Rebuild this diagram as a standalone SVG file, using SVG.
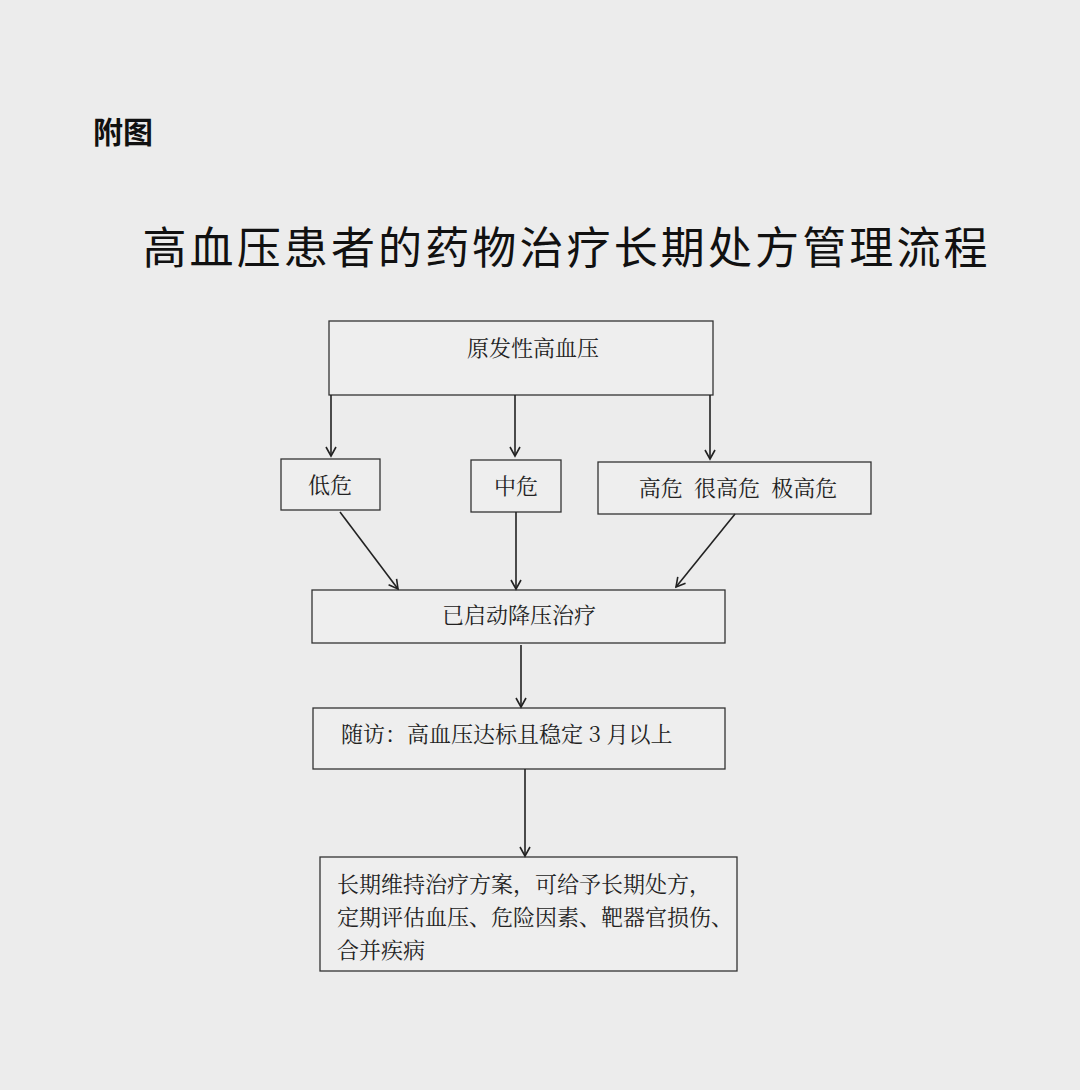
<svg xmlns="http://www.w3.org/2000/svg" width="1080" height="1090" viewBox="0 0 1080 1090">
<defs>
<marker id="ah" markerWidth="12" markerHeight="12" refX="10" refY="6" orient="auto" markerUnits="userSpaceOnUse">
<path d="M1,1 L10,6 L1,11" fill="none" stroke="#222" stroke-width="1.6"/>
</marker>
<style>
.box{fill:#eeeeee;stroke:#333;stroke-width:1.3}
.t{font-family:"Noto Serif CJK SC","Noto Sans CJK SC",serif;font-size:22px;fill:#222}
.c{stroke:#222;stroke-width:1.6;fill:none;marker-end:url(#ah)}
</style>
</defs>
<rect width="1080" height="1090" fill="#ececec"/>
<text x="93" y="143" font-family="'Noto Sans CJK SC',sans-serif" font-size="30" font-weight="bold" fill="#111">附图</text>
<text x="565" y="264" text-anchor="middle" font-family="'Noto Sans CJK SC',sans-serif" font-size="44" fill="#111" textLength="845">高血压患者的药物治疗长期处方管理流程</text>
<g id="n1"><rect class="box" x="329" y="321" width="384" height="74"/><text class="t" x="533" y="356" text-anchor="middle">原发性高血压</text></g>
<g id="n2"><rect class="box" x="281" y="459" width="99" height="51"/><text class="t" x="330" y="493" text-anchor="middle">低危</text></g>
<g id="n3"><rect class="box" x="471" y="460" width="90" height="52"/><text class="t" x="516" y="494" text-anchor="middle">中危</text></g>
<g id="n4"><rect class="box" x="598" y="462" width="273" height="52"/><text class="t" x="738" y="496" text-anchor="middle" xml:space="preserve">高危  很高危  极高危</text></g>
<g id="n5"><rect class="box" x="312" y="590" width="413" height="53"/><text class="t" x="519" y="623" text-anchor="middle">已启动降压治疗</text></g>
<g id="n6"><rect class="box" x="313" y="708" width="412" height="61"/><text class="t" x="341" y="742">随访：高血压达标且稳定 3 月以上</text></g>
<g id="n7"><rect class="box" x="320" y="857" width="417" height="114"/>
<text class="t" x="337" y="892">长期维持治疗方案，可给予长期处方，</text>
<text class="t" x="337" y="925">定期评估血压、危险因素、靶器官损伤、</text>
<text class="t" x="337" y="958">合并疾病</text></g>
<g id="connectors">
<line class="c" x1="331" y1="395" x2="331" y2="456"/>
<line class="c" x1="515" y1="395" x2="515" y2="456"/>
<line class="c" x1="710" y1="395" x2="710" y2="459"/>
<line class="c" x1="340" y1="512" x2="398" y2="589"/>
<line class="c" x1="516" y1="512" x2="516" y2="589"/>
<line class="c" x1="735" y1="514" x2="676" y2="587"/>
<line class="c" x1="521" y1="645" x2="521" y2="707"/>
<line class="c" x1="525" y1="769" x2="525" y2="856"/>
</g>
</svg>
